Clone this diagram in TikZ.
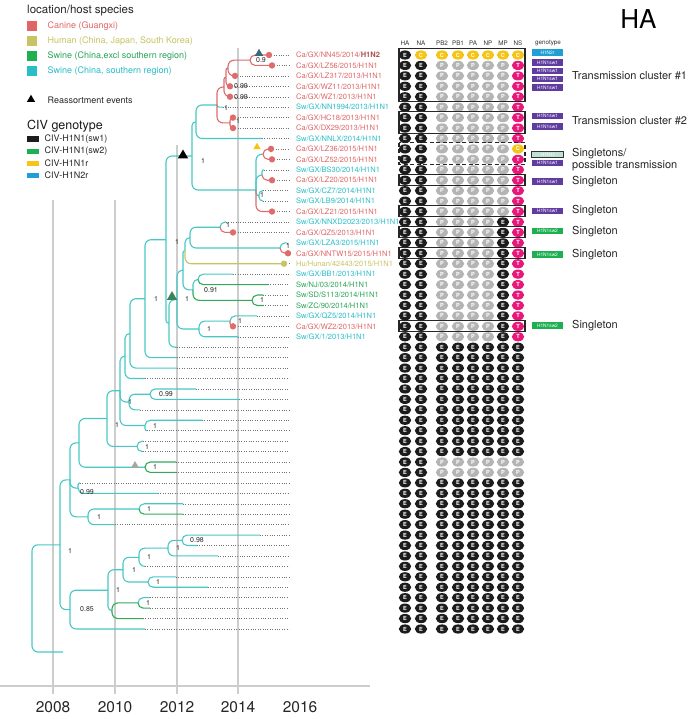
\documentclass[tikz,border=0pt]{standalone}
\usepackage{fontspec}
\setmainfont{TeX Gyre Heros}
\usetikzlibrary{shapes.geometric,calc}
\definecolor{cyb}{RGB}{72,200,196}
\definecolor{cyt}{RGB}{40,190,200}
\definecolor{rdb}{RGB}{222,108,108}
\definecolor{rdt}{RGB}{224,102,102}
\definecolor{grb}{RGB}{50,170,90}
\definecolor{grt}{RGB}{40,165,85}
\definecolor{olb}{RGB}{200,196,100}
\definecolor{gridc}{RGB}{205,205,205}
\definecolor{eblack}{RGB}{28,28,28}
\definecolor{pgray}{RGB}{180,180,180}
\definecolor{cyel}{RGB}{246,196,20}
\definecolor{tpink}{RGB}{232,24,122}
\definecolor{purp}{RGB}{96,60,160}
\definecolor{gsw}{RGB}{28,176,80}
\definecolor{bhn}{RGB}{30,160,215}
\definecolor{lteal}{RGB}{190,224,214}
\definecolor{tribl}{RGB}{40,110,145}
\definecolor{trigr}{RGB}{46,139,87}
\newcommand\RY[1]{55+10.436*(#1)}
\newcommand\edge[3][cyb]{\draw[#1,line width=1.1pt] let \p1=(#2), \p2=(#3), \n1={min(6,abs(\x2-\x1),abs(\y2-\y1))} in [rounded corners=\n1] (\p1) |- (\p2);}
\newcommand\generow[2]{\foreach \L [count=\c] in {#2} {\pgfmathsetmacro\cx{{405,421,442,458,473,488,503,518}[\c-1]}\node[seg\L] (m#1-\c) at (\cx,{\RY{#1}}) {\L};}}
\tikzset{
  every node/.style={inner sep=0pt},
  segbase/.style={ellipse, minimum width=12.4pt, minimum height=9.2pt, inner sep=0pt, text=white, font=\fontsize{5.6}{5.6}\selectfont\bfseries},
  segE/.style={segbase, fill=eblack},
  segP/.style={segbase, fill=pgray},
  segC/.style={segbase, fill=cyel},
  segT/.style={segbase, fill=tpink},
  dotl/.style={draw=black!55, line width=0.45pt, dash pattern=on 0.9pt off 1.5pt},
  gridl/.style={draw=gridc, line width=1.1pt},
  lab/.style={anchor=west, font=\fontsize{7.5}{8}\selectfont},
  pl/.style={font=\fontsize{7}{7}\selectfont, text=black!85},
  rdot/.style={circle, fill=rdb, minimum size=6.4pt},
  odot/.style={circle, fill=olb, minimum size=6.4pt},
  gtp/.style={minimum width=31.5pt, minimum height=6.2pt, text=white, font=\fontsize{4.8}{5}\selectfont},
  boxl/.style={draw=black!85, line width=1.1pt},
  hdr/.style={font=\fontsize{6.3}{7}\selectfont, text=black!80},
  rlab/.style={anchor=west, font=\fontsize{11}{12}\selectfont, text=black!85},
  tri/.style={regular polygon, regular polygon sides=3, inner sep=0pt},
  sq/.style={minimum size=10pt},
  lgt/.style={anchor=west, font=\fontsize{9}{10}\selectfont},
  civ/.style={minimum width=12pt, minimum height=5.5pt},
  yr/.style={font=\fontsize{15.5}{16}\selectfont, text=black!85}
}
\begin{document}
\begin{tikzpicture}[x=1pt,y=-1pt]
\useasboundingbox (0,0) rectangle (696,719);
\fill[white] (0,0) rectangle (696,719);
% grid and axis
\draw[gridl] (53,200) -- (53,694);
\draw[gridl] (115,200) -- (115,694);
\draw[gridl] (177,145) -- (177,694);
\draw[gridl] (238,48) -- (238,694);
\draw[draw=gridc, line width=1.1pt] (0,686) -- (370,686);
\node[yr] (y08) at (53,707) {2008};
\node[yr] (y10) at (115,707) {2010};
\node[yr] (y12) at (177,707) {2012};
\node[yr] (y14) at (238,707) {2014};
\node[yr] (y16) at (300,707) {2016};
% tips
\foreach \xx [count=\i from 0] in {269,272,235,230,230,223,233,233,262,271,272,264,272,263,263,272,226,233,287,288,284,233,268,263,263,257,233,238,177,177,177,145,196,239,140,202,147,143,143,176,176,80,158,183,183,115,260,197,218,145,176,208,150,150,143,145}
  {\coordinate (t\i) at (\xx,{\RY{\i}});}
\foreach \i in {0,...,55} {\coordinate (e\i) at (289,{\RY{\i}});}
\foreach \i in {0,...,55} {\draw[dotl] (t\i) -- (e\i);}
% internal nodes
\coordinate (A) at (250,60.2);
\coordinate (B) at (228,68);
\coordinate (C) at (226,77.2);
\coordinate (D) at (224,87);
\coordinate (HC) at (230,122.9);
\coordinate (U2) at (217,105);
\coordinate (U1) at (196,121.7);
\coordinate (LA) at (263,154.2);
\coordinate (LB) at (262,175);
\coordinate (LC) at (259,195.9);
\coordinate (L) at (256,190);
\coordinate (X) at (192,156);
\coordinate (NQ) at (220,227.2);
\coordinate (NL) at (280,248);
\coordinate (G3) at (190,237.6);
\coordinate (G5) at (185,250.7);
\coordinate (NB) at (198,279.4);
\coordinate (NS) at (252,300.3);
\coordinate (G4) at (193,289.8);
\coordinate (G1) at (183,270.2);
\coordinate (NW) at (230,321.1);
\coordinate (G2) at (199,329);
\coordinate (G) at (177,299.6);
\coordinate (Q) at (169,323.4);
\coordinate (P) at (166,239.7);
\coordinate (N145) at (145,298.7);
\coordinate (R) at (130,333.4);
\coordinate (S) at (125,356);
\coordinate (N32) at (150,394.2);
\coordinate (U) at (129,402);
\coordinate (N35) at (145,425.5);
\coordinate (V) at (120,390.7);
\coordinate (N37) at (137,446.4);
\coordinate (W) at (107,418.5);
\coordinate (N39) at (145,467.2);
\coordinate (M1) at (79,442.9);
\coordinate (N41) at (78,488.1);
\coordinate (N43) at (139,509);
\coordinate (N88) at (88,516.8);
\coordinate (M2) at (70,479.9);
\coordinate (N46) at (182,540.3);
\coordinate (N168) at (168,548.1);
\coordinate (N139) at (139,557.3);
\coordinate (N50) at (148,582);
\coordinate (N123) at (123,569.7);
\coordinate (N52) at (138,602.9);
\coordinate (N112) at (112,610.7);
\coordinate (N108) at (108,590.2);
\coordinate (LCl) at (70,609.6);
\coordinate (N60) at (60,544.8);
\coordinate (Root) at (32,598.4);
\coordinate (tout) at (63,652);
% edges
\edge{Root}{N60} \edge{Root}{tout}
\edge{N60}{M2} \edge{N60}{LCl}
\edge{M2}{M1} \edge{M2}{N41} \edge{M2}{N88}
\edge{M1}{W} \edge{M1}{N39}
\edge{W}{V} \edge{W}{N37}
\edge{V}{S} \edge{V}{U} \edge{V}{N35}
\edge{S}{R} \edge{S}{t31}
\edge{R}{N145} \edge{R}{t30}
\edge{N145}{P} \edge{N145}{t29}
\edge{P}{X} \edge{P}{Q}
\edge{X}{U1} \edge{X}{L}
\edge{U1}{U2} \edge{U1}{t8}
\edge[rdb]{U2}{D} \edge{U2}{t5} \edge[rdb]{U2}{HC}
\edge[rdb]{D}{C} \edge[rdb]{D}{t4}
\edge[rdb]{C}{B} \edge[rdb]{C}{t3}
\edge[rdb]{B}{A} \edge[rdb]{B}{t2}
\edge[rdb]{A}{t0} \edge[rdb]{A}{t1}
\edge[rdb]{HC}{t6} \edge[rdb]{HC}{t7}
\edge{L}{LA} \edge{L}{LB} \edge{L}{LC} \edge[rdb]{L}{t15}
\edge[rdb]{LA}{t9} \edge[rdb]{LA}{t10}
\edge{LB}{t11} \edge[rdb]{LB}{t12}
\edge{LC}{t13} \edge{LC}{t14}
\edge{Q}{G} \edge{Q}{t28}
\edge{G}{G1} \edge{G}{G2}
\edge{G1}{G5} \edge{G1}{G4}
\edge{G5}{G3} \edge[olb]{G5}{t20}
\edge{G3}{NQ} \edge{G3}{NL}
\edge{NQ}{t16} \edge[rdb]{NQ}{t17}
\edge{NL}{t18} \edge[rdb]{NL}{t19}
\edge{G4}{NB} \edge[grb]{G4}{NS}
\edge{NB}{t21} \edge[grb]{NB}{t22}
\edge[grb]{NS}{t23} \edge[grb]{NS}{t24}
\edge{G2}{NW} \edge{G2}{t27}
\edge{NW}{t25} \edge[rdb]{NW}{t26}
\edge{U}{N32} \edge{U}{t34}
\edge{N32}{t32} \edge{N32}{t33}
\edge{N35}{t35} \edge{N35}{t36}
\edge{N37}{t37} \edge{N37}{t38}
\edge[grb]{N39}{t39} \edge[grb]{N39}{t40}
\edge{N41}{t41} \edge{N41}{t42}
\edge{N88}{N43} \edge{N88}{t45}
\edge{N43}{t43} \edge[grb]{N43}{t44}
\edge{LCl}{N108} \edge{LCl}{t55}
\edge{N108}{N123} \edge{N108}{N112}
\edge{N123}{N139} \edge{N123}{N50}
\edge{N139}{N168} \edge{N139}{t49}
\edge{N168}{N46} \edge{N168}{t48}
\edge{N46}{t46} \edge{N46}{t47}
\edge{N50}{t50} \edge{N50}{t51}
\edge[grb]{N112}{N52} \edge[grb]{N112}{t54}
\edge{N52}{t52} \edge[grb]{N52}{t53}
% tip dots
\foreach \i in {0,1,2,3,4,6,7,9,10,12,15,17,19,26} {\node[rdot] (d\i) at (t\i) {};}
\node[odot] (d20) at (t20) {};
% reassortment triangles
\node[tri, fill=tribl, draw=black!70, line width=0.3pt, minimum size=8.5pt] (rtb) at (259,53.5) {};
\node[tri, fill=cyel, minimum size=8.5pt] (rty) at (257,147) {};
\node[tri, fill=black, minimum size=12pt] (rtk) at (183,155.5) {};
\node[tri, fill=trigr, draw=black!60, line width=0.3pt, minimum size=11pt] (rtg) at (172,297) {};
\node[tri, fill=black!35, minimum size=9pt] (rtx) at (135,465.5) {};
% posterior labels
\node[pl] (p01) at (261,60.5) {0.9};
\node[pl] (p02) at (241,86.5) {0.99};
\node[pl] (p03) at (241,97) {0.99};
\node[pl] (p04) at (226,108.5) {1};
\node[pl] (p05) at (238,121) {1};
\node[pl] (p06) at (203,161) {1};
\node[pl] (p07) at (262,195) {1};
\node[pl] (p08) at (228,225) {1};
\node[pl] (p09) at (288,246) {1};
\node[pl] (p10) at (211,290) {0.91};
\node[pl] (p11) at (262,300) {1};
\node[pl] (p12) at (240,321) {1};
\node[pl] (p13) at (209,329) {1};
\node[pl] (p14) at (187,299) {1};
\node[pl] (p15) at (156,299) {1};
\node[pl] (p16) at (177,242) {1};
\node[pl] (p17) at (130,402) {1};
\node[pl] (p18) at (166,394) {0.99};
\node[pl] (p19) at (117,425) {1};
\node[pl] (p20) at (155,426) {1};
\node[pl] (p21) at (147,447) {1};
\node[pl] (p22) at (155,467) {1};
\node[pl] (p23) at (87,492.5) {0.99};
\node[pl] (p24) at (149,509) {1};
\node[pl] (p25) at (99,517) {1};
\node[pl] (p26) at (197,540) {0.98};
\node[pl] (p27) at (178,548) {1};
\node[pl] (p28) at (149,557) {1};
\node[pl] (p29) at (134,570) {1};
\node[pl] (p30) at (158,582) {1};
\node[pl] (p31) at (118,590) {1};
\node[pl] (p32) at (148,603) {1};
\node[pl] (p33) at (87,609) {0.85};
\node[pl] (p34) at (70,551) {1};
% taxon labels
\node[lab, text=rdt] (L0) at (296,{\RY{0}}) {Ca/GX/NN45/2014/{\bfseries\color{rdb!75!black}H1N2}};
\node[lab, text=rdt] (L1) at (296,{\RY{1}}) {Ca/GX/LZ56/2015/H1N1};
\node[lab, text=rdt] (L2) at (296,{\RY{2}}) {Ca/GX/LZ317/2013/H1N1};
\node[lab, text=rdt] (L3) at (296,{\RY{3}}) {Ca/GX/WZ11/2013/H1N1};
\node[lab, text=rdt] (L4) at (296,{\RY{4}}) {Ca/GX/WZ1/2013/H1N1};
\node[lab, text=cyt] (L5) at (296,{\RY{5}}) {Sw/GX/NN1994/2013/H1N1};
\node[lab, text=rdt] (L6) at (296,{\RY{6}}) {Ca/GX/HC18/2013/H1N1};
\node[lab, text=rdt] (L7) at (296,{\RY{7}}) {Ca/GX/DX29/2013/H1N1};
\node[lab, text=cyt] (L8) at (296,{\RY{8}}) {Sw/GX/NNLX/2014/H1N1};
\node[lab, text=rdt] (L9) at (296,{\RY{9}}) {Ca/GX/LZ36/2015/H1N1};
\node[lab, text=rdt] (L10) at (296,{\RY{10}}) {Ca/GX/LZ52/2015/H1N1};
\node[lab, text=cyt] (L11) at (296,{\RY{11}}) {Sw/GX/BS30/2014/H1N1};
\node[lab, text=rdt] (L12) at (296,{\RY{12}}) {Ca/GX/LZ20/2015/H1N1};
\node[lab, text=cyt] (L13) at (296,{\RY{13}}) {Sw/GX/CZ7/2014/H1N1};
\node[lab, text=cyt] (L14) at (296,{\RY{14}}) {Sw/GX/LB9/2014/H1N1};
\node[lab, text=rdt] (L15) at (296,{\RY{15}}) {Ca/GX/LZ21/2015/H1N1};
\node[lab, text=cyt] (L16) at (296,{\RY{16}}) {Sw/GX/NNXD2023/2013/H1N1};
\node[lab, text=rdt] (L17) at (296,{\RY{17}}) {Ca/GX/QZ5/2013/H1N1};
\node[lab, text=cyt] (L18) at (296,{\RY{18}}) {Sw/GX/LZA3/2015/H1N1};
\node[lab, text=rdt] (L19) at (296,{\RY{19}}) {Ca/GX/NNTW15/2015/H1N1};
\node[lab, text=olb] (L20) at (296,{\RY{20}}) {Hu/Hunan/42443/2015/H1N1};
\node[lab, text=cyt] (L21) at (296,{\RY{21}}) {Sw/GX/BB1/2013/H1N1};
\node[lab, text=grt] (L22) at (296,{\RY{22}}) {Sw/NJ/03/2014/H1N1};
\node[lab, text=grt] (L23) at (296,{\RY{23}}) {Sw/SD/S113/2014/H1N1};
\node[lab, text=grt] (L24) at (296,{\RY{24}}) {Sw/ZC/90/2014/H1N1};
\node[lab, text=cyt] (L25) at (296,{\RY{25}}) {Sw/GX/QZ5/2014/H1N1};
\node[lab, text=rdt] (L26) at (296,{\RY{26}}) {Ca/GX/WZ2/2013/H1N1};
\node[lab, text=cyt] (L27) at (296,{\RY{27}}) {Sw/GX/1/2013/H1N1};
% segment matrix header
\node[hdr] (hHA) at (405,43) {HA};
\node[hdr] (hNA) at (421,43) {NA};
\node[hdr] (hPB2) at (442,43) {PB2};
\node[hdr] (hPB1) at (458,43) {PB1};
\node[hdr] (hPA) at (473,43) {PA};
\node[hdr] (hNP) at (488,43) {NP};
\node[hdr] (hMP) at (503,43) {MP};
\node[hdr] (hNS) at (518,43) {NS};
\node[hdr] (hgt) at (548,43) {genotype};
% segment matrix
\generow{0}{E,C,C,C,C,C,C,C}
\foreach \r in {1,...,8} {\generow{\r}{E,E,P,P,P,P,P,T}}
\generow{9}{E,E,P,P,P,P,P,C}
\foreach \r in {10,...,15} {\generow{\r}{E,E,P,P,P,P,P,T}}
\foreach \r in {16,...,27} {\generow{\r}{E,E,P,P,P,P,E,T}}
\foreach \r in {28,...,38} {\generow{\r}{E,E,E,E,E,E,E,E}}
\foreach \r in {39,40} {\generow{\r}{E,E,P,P,P,P,P,P}}
\foreach \r in {41,...,55} {\generow{\r}{E,E,E,E,E,E,E,E}}
% boxes
\draw[boxl] (399,{\RY{0}-6.3}) rectangle (525,{\RY{4}+5.2});
\draw[boxl] (399,{\RY{6}-6}) rectangle (525,{\RY{7}+5});
\draw[boxl, dashed, dash pattern=on 4pt off 2.5pt] (399,{\RY{9}-6}) rectangle (525,{\RY{10}+5});
\draw[boxl] (399,{\RY{12}-6}) rectangle (525,{\RY{12}+5});
\draw[boxl] (399,{\RY{15}-6}) rectangle (525,{\RY{15}+5});
\draw[boxl] (399,{\RY{17}-6}) rectangle (525,{\RY{17}+5});
\draw[boxl] (399,{\RY{19}-6}) rectangle (525,{\RY{19}+5});
\draw[boxl] (399,{\RY{26}-6}) rectangle (525,{\RY{26}+5});
% genotype labels
\node[gtp, fill=bhn] (g0) at (547.5,52.5) {H1N2r};
\node[gtp, fill=purp] (g1) at (547.5,62.5) {H1N1sw1};
\node[gtp, fill=purp] (g2) at (547.5,71) {H1N1sw1};
\node[gtp, fill=purp] (g3) at (547.5,79) {H1N1sw1};
\node[gtp, fill=purp] (g4) at (547.5,87.5) {H1N1sw1};
\node[gtp, fill=purp] (g6) at (547.5,116) {H1N1sw1};
\node[gtp, fill=purp] (g7) at (547.5,126.5) {H1N1sw1};
\node[gtp, fill=lteal, draw=black!80, line width=0.8pt] (g9) at (547.5,154.5) {H1N1r};
\node[gtp, fill=purp] (g10) at (547.5,163) {H1N1sw1};
\node[gtp, fill=purp] (g12) at (547.5,181.5) {H1N1sw1};
\node[gtp, fill=purp] (g15) at (547.5,211) {H1N1sw1};
\node[gtp, fill=gsw] (g17) at (547.5,231) {H1N1sw2};
\node[gtp, fill=gsw] (g19) at (547.5,254.5) {H1N1sw2};
\node[gtp, fill=gsw] (g26) at (547.5,325.5) {H1N1sw2};
% right labels
\node[rlab] (c1) at (572,75.5) {Transmission cluster \#1};
\node[rlab] (c2) at (572,121) {Transmission cluster \#2};
\node[rlab] (c3) at (572,154) {Singletons/};
\node[rlab] (c4) at (572,165.5) {possible transmission};
\node[rlab] (c5) at (572,181.5) {Singleton};
\node[rlab] (c6) at (572,211) {Singleton};
\node[rlab] (c7) at (572,231.5) {Singleton};
\node[rlab] (c8) at (572,254.5) {Singleton};
\node[rlab] (c9) at (572,325.5) {Singleton};
% title
\node[font=\fontsize{26}{28}\selectfont] (ttl) at (638.5,19) {HA};
% legend
\node[anchor=west, font=\fontsize{11.5}{12}\selectfont, text=black!85] (lg1) at (27,11) {location/host species};
\node[sq, fill=rdt] (s1) at (32,26) {};
\node[sq, fill=olb] (s2) at (32,41) {};
\node[sq, fill=gsw] (s3) at (32,56) {};
\node[sq, fill=cyt] (s4) at (32,71) {};
\node[lgt, text=rdt] (s1t) at (47.5,26) {Canine (Guangxi)};
\node[lgt, text=olb] (s2t) at (47.5,41) {Human (China, Japan, South Korea)};
\node[lgt, text=grt] (s3t) at (47.5,56) {Swine (China,excl southern region)};
\node[lgt, text=cyt] (s4t) at (47.5,71) {Swine (China, southern region)};
\node[tri, fill=black, minimum size=9.5pt] (lgtri) at (31,99.5) {};
\node[lgt, text=black!85] (lgtrit) at (47.5,100) {Reassortment events};
\node[anchor=west, font=\fontsize{12.5}{13}\selectfont, text=black!90] (lg2) at (27,126) {CIV genotype};
\node[civ, fill=eblack] (v1) at (33,139) {};
\node[civ, fill=gsw] (v2) at (33,151.5) {};
\node[civ, fill=cyel] (v3) at (33,163.5) {};
\node[civ, fill=bhn] (v4) at (33,175.5) {};
\node[lgt, text=black!85] (v1t) at (44.5,139) {CIV-H1N1(sw1)};
\node[lgt, text=black!85] (v2t) at (44.5,151.5) {CIV-H1N1(sw2)};
\node[lgt, text=black!85] (v3t) at (44.5,163.5) {CIV-H1N1r};
\node[lgt, text=black!85] (v4t) at (44.5,175.5) {CIV-H1N2r};
\end{tikzpicture}
\end{document}
